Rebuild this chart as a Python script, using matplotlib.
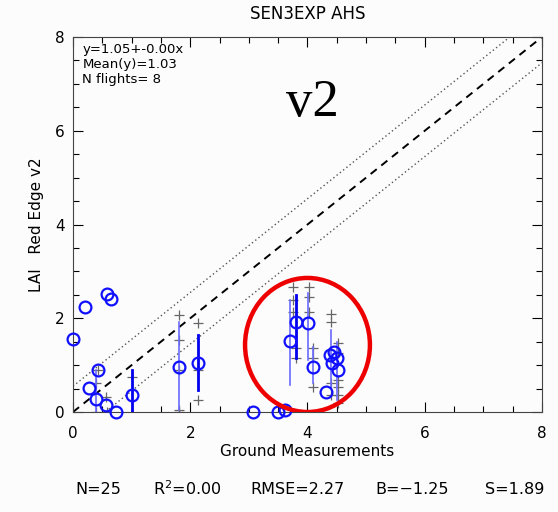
import numpy as np
import matplotlib.pyplot as plt
from matplotlib.patches import Ellipse

# ground measurement (x) vs retrieved LAI (y), one circle per site
gx = [0.00, 0.20, 0.58, 0.65, 0.43, 0.27, 0.39, 0.56, 0.73, 1.00, 1.81, 2.13,
      3.07, 3.50, 3.62, 3.81, 3.70, 4.01, 4.10, 4.32, 4.39, 4.42, 4.50, 4.52, 4.45]
ly = [1.55, 2.25, 2.52, 2.42, 0.90, 0.51, 0.28, 0.15, 0.00, 0.36, 0.96, 1.04,
      0.00, 0.00, 0.05, 1.92, 1.51, 1.90, 0.96, 0.43, 1.21, 1.04, 1.15, 0.90, 1.28]

# vertical spread bars: x, low, high, dark?
bar_x = [0.40, 1.00, 1.81, 2.13, 3.70, 3.81, 4.01, 4.10, 4.40, 4.50]
bar_lo = [0.00, 0.00, 0.04, 0.47, 0.58, 1.15, 1.10, 0.62, 0.53, 0.26]
bar_hi = [0.90, 0.90, 1.92, 1.64, 2.39, 2.49, 2.54, 1.39, 1.75, 1.49]
bar_dark = [False, True, False, True, False, True, False, False, False, False]

# individual measurements (grey crosses)
cross_x = [0.43, 0.40, 0.57, 0.40, 0.58, 1.00, 1.81, 1.81, 1.81, 1.81, 1.81,
           2.13, 2.13, 2.13, 3.75, 3.75, 3.75, 3.80, 3.80, 4.03, 4.03, 4.03,
           4.10, 4.10, 4.10, 4.40, 4.40, 4.40, 4.40, 4.52, 4.52, 4.52, 4.52,
           4.52, 4.52]
cross_y = [0.90, 0.62, 0.32, 0.00, 0.00, 0.75, 2.07, 1.53, 0.90, 0.04, 0.00,
           1.90, 0.90, 0.26, 2.67, 2.39, 2.13, 1.36, 1.15, 2.67, 2.45, 2.13,
           1.36, 1.15, 0.53, 2.10, 1.92, 0.62, 0.36, 1.47, 1.26, 0.68, 0.53,
           0.36, 0.19]

fig = plt.figure(figsize=(5.58, 5.12), dpi=100)
fig.patch.set_facecolor('#fcfcfc')
ax = fig.add_axes([0.1308, 0.1953, 0.8405, 0.7324])
ax.set_facecolor('#fcfcfc')

line = np.array([0, 8])
ax.plot(line, line, color='black', ls=(0, (4, 3)), lw=1.4)
ax.plot(line, line + 0.55, color='#555555', ls=(0, (1, 2)), lw=1.0)
ax.plot(line, line - 0.55, color='#555555', ls=(0, (1, 2)), lw=1.0)

for bx, lo, hi, dk in zip(bar_x, bar_lo, bar_hi, bar_dark):
    ax.plot([bx, bx], [lo, hi], color='#0000ee' if dk else '#6a6aff',
            lw=2.0 if dk else 1.2, zorder=3)

ax.plot(cross_x, cross_y, '+', color='#666666', ms=7, mew=0.9, zorder=2)
ax.plot(gx, ly, 'o', mfc='none', mec='#1010ff', ms=8.5, mew=1.6, zorder=4,
        clip_on=False)

ax.add_patch(Ellipse((4.0, 1.43), 2.13, 2.86, fill=False, ec='#ee0000', lw=3.2, zorder=5))

ax.set_xlim(0, 8)
ax.set_ylim(0, 8)
ax.set_xticks([0, 2, 4, 6, 8])
ax.set_yticks([0, 2, 4, 6, 8])
ax.set_xticks(np.arange(0, 8.01, 0.5), minor=True)
ax.set_yticks(np.arange(0, 8.01, 0.5), minor=True)
ax.tick_params(which='both', direction='in', top=True, right=True, labelsize=11)
ax.tick_params(which='major', length=7, width=0.8)
ax.tick_params(which='minor', length=4, width=0.8)
ax.tick_params(axis='x', which='major', pad=10)
ax.tick_params(axis='y', which='major', pad=6)
for s in ax.spines.values():
    s.set_color('#444444')

ax.set_xlabel('Ground Measurements', fontsize=11, labelpad=2)
ax.set_ylabel('LAI   Red Edge v2', fontsize=11, labelpad=8)
ax.set_title('SEN3EXP AHS', fontsize=12, pad=13)

ax.text(0.02, 0.985, 'y=1.05+-0.00x\nMean(y)=1.03\nN flights= 8',
        transform=ax.transAxes, va='top', ha='left', fontsize=9.5, linespacing=1.2)
ax.text(4.08, 6.6, 'v2', fontsize=38, family='Liberation Serif', ha='center', va='center')

stats = ['N=25', 'R$^2$=0.00', 'RMSE=2.27', 'B=\u22121.25', 'S=1.89']
stat_x = [98, 187, 297, 412, 515]
for sx, st in zip(stat_x, stats):
    fig.text(sx / 558, 1 - 489 / 512, st, ha='center', va='center', fontsize=11.5)

fig.savefig('out.png', dpi=100, facecolor=fig.get_facecolor())
